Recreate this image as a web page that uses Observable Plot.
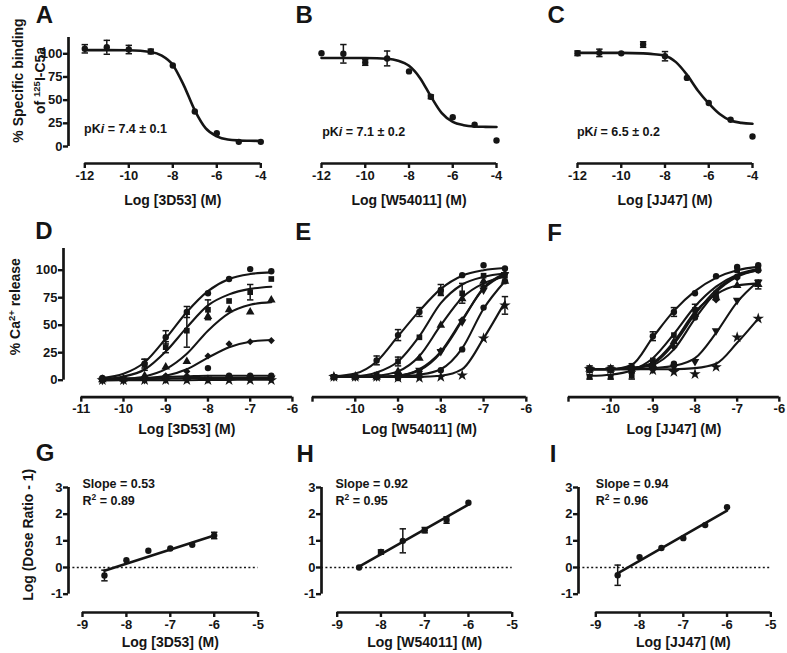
<!DOCTYPE html>
<html><head><meta charset="utf-8">
<script src="https://cdn.jsdelivr.net/npm/d3@7"></script>
<script src="https://cdn.jsdelivr.net/npm/@observablehq/plot@0.6"></script>
<style>
body{margin:0;background:#fff;}
#fig{position:relative;width:787px;height:653px;overflow:hidden;background:#fff;}
#fig svg{position:absolute;overflow:visible;background:transparent;}
</style></head><body><div id="fig"></div>
<script>
// ---------- DATA ----------
// Binding (A-C)
const bindX = [-12,-11,-10,-9,-8,-7,-6,-5,-4];
const A_y = [105.4,107,104.6,102.5,87.4,37.7,14.3,5,5];
const A_err = [4.5,7.5,4.5,2.5,0,0,0,0,0];
const B_y = [100.6,100,90.6,95,81,53.6,31.6,23.4,6.5];
const B_err = [0,10,3,8,0,2,0,0,0];
const C_y = [100.6,101,100.5,110,97.4,74,47,28.8,10.8];
const C_err = [2.5,4,0,3,5,0,0,0,0];
const bindFitX = [-12,-11,-10,-9,-8.5,-8,-7.5,-7,-6.5,-6,-5.5,-5,-4.5,-4];
const A_fit = [104,104,103.8,102,98,88,66,39,19.5,11,7.5,6.5,6.2,6];
const B_fit = [95.5,95.5,95.4,94.6,92.6,87,74,54,36,26.5,23,21.6,21.2,21];
const C_fit = [101,101,101,100.5,99.5,98,91,77.5,60.5,46.5,35,28,25.5,24.5];
const pKi = ["pK~(i) = 7.4 ± 0.1","pK~(i) = 7.1 ± 0.2","pK~(i) = 6.5 ± 0.2"];

// Ca2+ release (D-F)
const caX = [-10.5,-10,-9.5,-9,-8.5,-8,-7.5,-7,-6.5];
const D_sym = ["circle","square","triangle","diamond","circle","triangle-down","star"];
const D_y = [
  [2,1,15,39,62,79,92,101,99],
  [1,1,14,30,45,64,72,80,92],
  [0.5,1,4,12,17,58,64,62,73],
  [0,0,1,4,8,22,33,35,36],
  [0.5,0.5,1,3,3,11,4,4,4],
  [0,0,0.5,1,1.5,1,2,2,2],
  [0,0,0,0,0,0,0,0,0]];
const D_err = [
  [0,0,4,6,5,0,0,0,0],
  [0,0,5,5,15,9,0,7,0],
  [0,0,0,0,0,0,0,0,0],
  [0,0,0,0,0,0,0,0,0],
  [0,0,0,0,0,0,0,0,0],
  [0,0,0,0,0,0,0,0,0],
  [0,0,0,0,0,0,0,0,0]];
const D_fit = [
  [1.9,5.8,16.3,37.9,62,81,92,96.5,98],
  [1.1,3.3,9.7,26,48,68,78,83,85],
  [0.4,1.1,3.4,10,24,45,61,68.5,71],
  [0,0.5,1.5,4,10,20.5,30,35,36.5],
  [1,1.5,2,3,3.5,4,4,4,4],
  [0.5,0.8,1,1.5,2,2,2,2,2],
  [0,0,0,0,0,0.2,0.3,0.5,0.5]];

const EF_sym = ["circle","square","triangle","triangle-down","diamond","circle","star"];
const E_y = [
  [3,3,18,41,62,82,95.5,104.5,101.5],
  [3,3,5,17,39,80,79,95,95],
  [3,3,3,8,20,50,74,90,90],
  [3,3,3,4,9,26,53,82,96],
  [3,3,3,4,8,27,55,85,97],
  [3,3,3,2,5,9,28,66,90],
  [3,3,3,2,2,3,4.5,38,68]];
const E_err = [
  [0,0,4,5,4,5,0,0,0],
  [0,0,0,4,0,0,9,0,0],
  [0,0,0,0,0,0,0,0,0],
  [0,0,0,0,0,0,0,0,0],
  [0,0,0,0,0,0,0,0,0],
  [0,0,0,0,0,0,0,0,0],
  [0,0,0,0,0,0,0,0,8]];
const E_fit = [
  [3.5,6,17,40,63,83,95,100,102],
  [3,3.5,7,17,40,70,87,94,97],
  [3,3,4,8,22,50,75,88,94],
  [3,3,3,4,10,26,55,83,96],
  [3,3,3,4,9,25,54,84,97],
  [3,3,3,3.5,5,10,29,65,90],
  [3,3,3,3,3,4,10,38,71]];

const F_y = [
  [10,10,12,40,62,79,94.5,103,104.5],
  [3,3,4,18,41,64,79,100,101],
  [10,10,10,14,35,60,75,86,87],
  [10,10,10,10,12,17,45,72.7,89],
  [10,10,10,14,30,58,73,93,100],
  [10,10,10,13,15,57,75,94,100],
  [10,10,10,9,7.5,5.5,12,39,56]];
const F_err = [
  [3,3,3,4,4,0,0,0,0],
  [2,2,3,0,0,5,0,0,0],
  [0,0,0,0,0,0,0,0,4],
  [0,0,0,0,0,0,0,0,0],
  [0,0,0,0,0,0,0,0,0],
  [0,0,0,0,0,0,0,0,0],
  [0,0,0,0,0,0,0,0,0]];
const F_fit = [
  [10,10,14,39,63,81,93,100,103],
  [4,5,9,20,42,67,85,96,101],
  [10,10,11,16,35,62,78,86,88],
  [10,10,10,11,13,20,43,71,90],
  [10,10,11,15,33,60,82,95,100],
  [10,10,11,14,28,56,80,94,100],
  [10,10,10,10,10,11,15,34,56]];

// Schild (G-I)
const schildX = [-8.5,-8,-7.5,-7,-6.5,-6];
const G_y = [-0.3,0.27,0.63,0.71,0.85,1.2];
const G_err = [0.2,0,0,0,0,0.12];
const H_y = [0,0.58,1.0,1.4,1.78,2.43];
const H_err = [0,0.08,0.45,0.1,0.12,0];
const I_y = [-0.29,0.39,0.73,1.1,1.59,2.26];
const I_err = [0.38,0,0,0,0,0];
const schildFitX = [-8.5,-6];
const G_fit = [-0.12,1.2];
const H_fit = [0.03,2.36];
const I_fit = [-0.22,2.13];
const slopes = ["Slope = 0.53","Slope = 0.92","Slope = 0.94"];
const r2 = ["R^(2) = 0.89","R^(2) = 0.95","R^(2) = 0.96"];

const compounds = ["3D53","W54011","JJ47"];
const bindTicks = [-12,-10,-8,-6,-4];
const caTicks = [-11,-10,-9,-8,-7,-6];
const schildTicks = [-9,-8,-7,-6,-5];
const pctTicks = [0,25,50,75,100];
const logTicks = [-1,0,1,2,3];

// ---------- DRAWING ----------
const INK = "#151515";
const FONT = "'Liberation Sans', Arial, Helvetica, sans-serif";
const fig = document.getElementById("fig");
const CAP = {draw(ctx, size){ const r = Math.sqrt(size/Math.PI); ctx.moveTo(-r,0); ctx.lineTo(r,0); }};
const TRI_DOWN = {draw(ctx, size){ const s3 = Math.sqrt(3); const y = -Math.sqrt(size/(s3*3));
  ctx.moveTo(0,-y*2); ctx.lineTo(-s3*y, y); ctx.lineTo(s3*y, y); ctx.closePath(); }};
const SYM = {circle:"circle", square:"square", triangle:"triangle", "triangle-down":TRI_DOWN, diamond:"diamond2", star:"star"};

function panel(c){
  const sx = (c.xmap[1][1]-c.xmap[0][1])/(c.xmap[1][0]-c.xmap[0][0]);
  const xv = p => c.xmap[0][0] + (p - c.xmap[0][1])/sx;
  const xp = v => c.xmap[0][1] + (v - c.xmap[0][0])*sx;
  const sy = (c.ymap[1][1]-c.ymap[0][1])/(c.ymap[1][0]-c.ymap[0][0]);
  const yv = p => c.ymap[0][0] + (p - c.ymap[0][1])/sy;
  const xMin = c.xTicks[0], xMax = c.xTicks[c.xTicks.length-1];
  const fx1 = xp(xMax);
  const fx0 = c.fx0 ?? (xp(xMin) - 16);
  const fy0 = c.fy0, fy1 = c.fy1;
  const M = {t:60, r:30, b:60, l:90};
  const W = fx1 - fx0, H = fy1 - fy0;
  const xd = [xv(fx0), xv(fx1)];
  const yd = [yv(fy1), yv(fy0)];
  const marks = [];
  // x axis
  marks.push(Plot.ruleY([{y: yd[0], x1: xMin, x2: xMax}], {y:"y", x1:"x1", x2:"x2", stroke:INK, strokeWidth:2.7}));
  marks.push(Plot.axisX(c.xTicks, {anchor:"bottom", tickSize:5, tickPadding:2, stroke:INK, strokeWidth:2.4, fill:INK, label:null,
    tickFormat: d => (c.xSkip||[]).includes(d) ? "" : String(d)}));
  if (c.yTicks) {
    const ya = [c.yTicks[0], yd[1]];
    marks.push(Plot.ruleX([{x: xd[0], y1: ya[0], y2: ya[1]}], {x:"x", y1:"y1", y2:"y2", stroke:INK, strokeWidth:2.7}));
    marks.push(Plot.axisY(c.yTicks, {anchor:"left", tickSize:5, tickPadding:1, stroke:INK, strokeWidth:2.4, fill:INK, label:null, tickFormat: d => String(d)}));
  }
  if (c.zeroLine) marks.push(Plot.ruleY([{y:0, x1: xd[0], x2: xMax}], {y:"y", x1:"x1", x2:"x2", stroke:INK, strokeWidth:1.6, strokeDasharray:"2,2.4"}));
  // fits first
  for (const s of c.series) {
    if (s.fit) marks.push(Plot.line(s.fitX.map((x,i)=>({x, y:s.fit[i]})), {x:"x", y:"y", curve: s.curve || "monotone-x", stroke:INK, strokeWidth: c.lw || 2.4}));
  }
  for (const s of c.series) {
    const pts = s.x.map((x,i)=>({x, y:s.y[i], e: s.err ? s.err[i] : 0}));
    const errs = pts.filter(d => d.e > 0);
    if (errs.length) {
      marks.push(Plot.ruleX(errs, {x:"x", y1: d => d.y - d.e, y2: d => d.y + d.e, stroke:INK, strokeWidth:1.5}));
      marks.push(Plot.dot(errs.flatMap(d => [{x:d.x, y:d.y-d.e}, {x:d.x, y:d.y+d.e}]), {x:"x", y:"y", symbol:CAP, r:3.2, stroke:INK, strokeWidth:1.5, fill:"none"}));
    }
    marks.push(Plot.dot(pts, {x:"x", y:"y", symbol: SYM[s.symbol || "circle"], r: s.symbol === "star" ? 3.6 : 3.2, fill:INK, stroke:"none"}));
  }
  // texts (page coordinates → frame offsets)
  const texts = (c.texts || []).slice();
  texts.push({t: c.xlabel, x: xp((xMin+xMax)/2), y: c.xlabelY, size:14, anchor:"middle"});
  for (const t of texts) {
    marks.push(Plot.text([t], {text: d => d.t, frameAnchor:"top-left", dx: t.x - fx0, dy: t.y - fy0,
      textAnchor: t.anchor || "start", lineAnchor: t.line || "middle", fontSize: t.size || 12.5,
      rotate: t.rotate || 0, lineHeight: t.lh || 1, fill: INK, fontWeight: "bold", fontFamily: FONT}));
  }
  const svg = Plot.plot({
    width: M.l + W + M.r, height: M.t + H + M.b,
    marginLeft: M.l, marginRight: M.r, marginTop: M.t, marginBottom: M.b,
    x: {type:"linear", domain: xd},
    y: {type:"linear", domain: yd, axis: c.yTicks ? undefined : null},
    marks
  });
  svg.style.left = (fx0 - M.l) + "px";
  svg.style.top = (fy0 - M.t) + "px";
  svg.style.fontFamily = FONT;
  svg.style.fontWeight = "bold";
  svg.style.fontSize = "13px";
  svg.style.color = INK;
  svg.style.background = "transparent";
  svg.style.maxWidth = "none";
  fig.append(svg);
}

function richify(root){
  root.querySelectorAll("text, tspan").forEach(el => {
    if (el.children.length) return;
    const s = el.textContent;
    if (!/[\^~]\(/.test(s)) return;
    el.textContent = "";
    const re = /([\^~])\(([^)]*)\)/g; let last = 0, m;
    while ((m = re.exec(s))) {
      if (m.index > last) el.appendChild(document.createTextNode(s.slice(last, m.index)));
      const t = document.createElementNS("http://www.w3.org/2000/svg", "tspan");
      t.textContent = m[2];
      if (m[1] === "^") { t.setAttribute("baseline-shift", "super"); t.setAttribute("font-size", "0.68em"); }
      else t.setAttribute("font-style", "italic");
      el.appendChild(t);
      last = re.lastIndex;
    }
    if (last < s.length) el.appendChild(document.createTextNode(s.slice(last)));
  });
}

const bindY = [A_y, B_y, C_y], bindE = [A_err, B_err, C_err], bindF = [A_fit, B_fit, C_fit];
const bindMaps = [[[-12,84],[-4,260]], [[-12,321],[-4,496]], [[-12,577.3],[-4,752.3]]];
const letters1 = [["A",35],["B",295],["C",547.3]];
const pkiPos = [[83.3,129],[321.7,131],[576.7,131]];
for (let k = 0; k < 3; k++) {
  const texts = [
    {t: letters1[k][0], x: letters1[k][1], y: 22.5, size: 24, line: "bottom"},
    {t: pKi[k], x: pkiPos[k][0], y: pkiPos[k][1], size: 12.5}
  ];
  if (k === 0) texts.push({t: "% Specific binding\nof ^(125)I-C5a", x: 26, y: 80, size: 14, anchor: "middle", rotate: -90, lh: 1.55});
  panel({
    fx0: k === 0 ? 67.7 : undefined, fy0: 37, fy1: 163,
    xmap: bindMaps[k], ymap: [[0,146],[100,53.3]],
    xTicks: bindTicks, yTicks: k === 0 ? pctTicks : null,
    lw: 2.6,
    series: [{x: bindX, y: bindY[k], err: bindE[k], fitX: bindFitX, fit: bindF[k], symbol: "circle"}],
    xlabel: "Log [" + compounds[k] + "] (M)", xlabelY: 200, texts
  });
}

const caY = [D_y, E_y, F_y], caE = [D_err, E_err, F_err], caF = [D_fit, E_fit, F_fit], caS = [D_sym, EF_sym, EF_sym];
const caMaps = [[[-10,123.3],[-7,250]], [[-10,355],[-7,483.3]], [[-10,610],[-7,736.5]]];
const letters2 = [["D",35,239],["E",295,240],["F",546.7,241]];
for (let k = 0; k < 3; k++) {
  const texts = [{t: letters2[k][0], x: letters2[k][1], y: letters2[k][2], size: 24, line: "bottom"}];
  if (k === 0) texts.push({t: "% Ca^(2+) release", x: 15, y: 306.5, size: 14, anchor: "middle", rotate: -90});
  panel({
    fx0: k === 0 ? 63.3 : undefined, fy0: 248.3, fy1: 397,
    xmap: caMaps[k], ymap: [[0,380],[100,270]],
    xTicks: caTicks, xSkip: k === 0 ? [] : [-11], yTicks: k === 0 ? pctTicks : null,
    lw: 2.1,
    series: caY[k].map((ys, i) => ({x: caX, y: ys, err: caE[k][i], fitX: caX, fit: caF[k][i], symbol: caS[k][i]})),
    xlabel: "Log [" + compounds[k] + "] (M)", xlabelY: 429.5, texts
  });
}

const sY = [G_y, H_y, I_y], sE = [G_err, H_err, I_err], sF = [G_fit, H_fit, I_fit];
const sMaps = [[[-9,81.7],[-5,257.3]], [[-9,336.7],[-5,511.7]], [[-9,595],[-5,770]]];
const sFx0 = [67.7, 321, 577.7];
const letters3 = [["G",35,460],["H",296,461],["I",549,461]];
const slopeX = [81.7, 335, 595];
for (let k = 0; k < 3; k++) {
  const texts = [
    {t: letters3[k][0], x: letters3[k][1], y: letters3[k][2], size: 24, line: "bottom"},
    {t: slopes[k], x: slopeX[k], y: 483.3, size: 12.5},
    {t: r2[k], x: slopeX[k], y: 500, size: 12.5}
  ];
  if (k === 0) texts.push({t: "Log (Dose Ratio - 1)", x: 28, y: 534, size: 14, anchor: "middle", rotate: -90});
  panel({
    fx0: sFx0[k], fy0: 486.7, fy1: 611.7,
    xmap: sMaps[k], ymap: [[0,566.7],[3,486.7]],
    xTicks: schildTicks, yTicks: logTicks, zeroLine: true,
    lw: 2.6,
    series: [{x: schildX, y: sY[k], err: sE[k], fitX: schildFitX, fit: sF[k], curve: "linear", symbol: "circle"}],
    xlabel: "Log [" + compounds[k] + "] (M)", xlabelY: 642, texts
  });
}
richify(fig);
</script></body></html>
